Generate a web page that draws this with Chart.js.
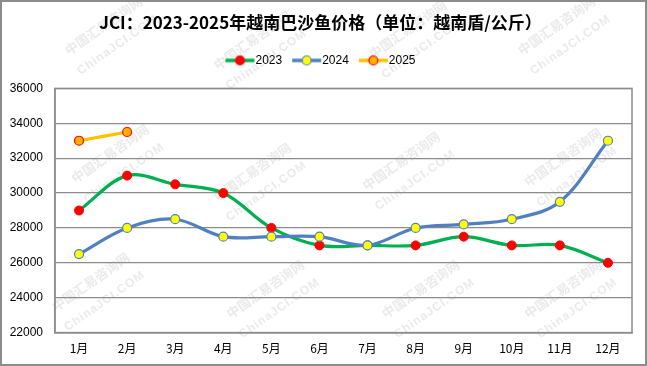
<!DOCTYPE html>
<html>
<head>
<meta charset="utf-8">
<script src="https://cdn.jsdelivr.net/npm/chart.js@4/dist/chart.umd.min.js"></script>
<style>
html,body{margin:0;padding:0;background:#fff;}
#wrap{width:647px;height:366px;position:relative;}
</style>
</head>
<body>
<div id="wrap"><canvas id="c" width="647" height="366"></canvas></div>
<script>
const titleText = 'JCI：2023-2025年越南巴沙鱼价格（单位：越南盾/公斤）';
const categories = ['1月','2月','3月','4月','5月','6月','7月','8月','9月','10月','11月','12月'];
const seriesNames = ['2023','2024','2025'];
const values2023 = [29000,31000,30500,30000,28000,27000,27000,27000,27500,27000,27000,26000];
const values2024 = [26500,28000,28500,27500,27500,27500,27000,28000,28200,28500,29500,33000];
const values2025 = [33000,33500];
const yTicks = [22000,24000,26000,28000,30000,32000,34000,36000];
const watermarkCn = '中国汇易咨询网';
const watermarkEn = 'ChinaJCI.COM';

const FONT = "'Liberation Sans','Noto Sans CJK SC',sans-serif";
const CJK = "'Noto Sans CJK SC','Liberation Sans',sans-serif";

function legendIcon(lineColor, fill, border) {
  const cv = document.createElement('canvas');
  cv.width = 36; cv.height = 12;
  const g = cv.getContext('2d');
  g.strokeStyle = lineColor; g.lineWidth = 3.5;
  g.beginPath(); g.moveTo(6, 6); g.lineTo(35, 6); g.stroke();
  g.beginPath(); g.arc(20.5, 6, 4.5, 0, Math.PI * 2);
  g.fillStyle = fill; g.fill();
  g.lineWidth = 1.2; g.strokeStyle = border; g.stroke();
  return cv;
}

const styles = [
  {line:'#00B050', fill:'#FF0000', border:'#FF0000'},
  {line:'#5080C0', fill:'#FFFF00', border:'#5080C0'},
  {line:'#FFC000', fill:'#FFB000', border:'#FF0000'}
];
const dataSeries = [values2023, values2024, values2025];

const datasets = dataSeries.map((vals, i) => ({
  label: seriesNames[i],
  data: vals,
  borderColor: styles[i].line,
  backgroundColor: styles[i].fill,
  pointBackgroundColor: styles[i].fill,
  pointBorderColor: styles[i].border,
  pointBorderWidth: i === 0 ? 1 : 1.2,
  pointRadius: 4.5,
  pointHoverRadius: 4.5,
  borderWidth: 3.2,
  tension: 0.35,
  order: 3 - i
}));

// watermark anchor spots (decorative), as fractions of canvas size
const wmSpots = [[0.16,0.07],[0.39,0.11],[0.63,0.08],[0.86,0.07],
                 [0.17,0.42],[0.39,0.47],[0.62,0.44],[0.87,0.43],
                 [0.14,0.77],[0.41,0.79],[0.65,0.79],[0.87,0.79]];

const frame = {
  id: 'frame',
  beforeInit(chart) {
    const lg = chart.legend;
    if (lg) {
      const orig = lg.fit;
      lg.fit = function () { orig.call(this); this.height += 12; };
    }
  },
  beforeDraw(chart) {
    const {ctx, width, height} = chart;
    ctx.save();
    ctx.fillStyle = '#fff';
    ctx.fillRect(0, 0, width, height);
    wmSpots.forEach(([fx, fy]) => {
      const x = fx * width, y = fy * height;
      ctx.save();
      ctx.translate(x, y);
      ctx.rotate(-35 * Math.PI / 180);
      ctx.fillStyle = 'rgba(190,190,190,0.32)';
      ctx.textAlign = 'center';
      ctx.textBaseline = 'middle';
      ctx.font = "bold 13px 'Noto Sans CJK SC'";
      ctx.fillText(watermarkCn, 0, 0);
      ctx.font = "bold 12px 'Liberation Sans'";
      ctx.fillText(watermarkEn.split('').join(String.fromCharCode(8202)), 0, 24);
      ctx.restore();
    });
    ctx.restore();
  },
  beforeDatasetsDraw(chart) {
    const {ctx, chartArea: a} = chart;
    ctx.save();
    ctx.strokeStyle = '#8C8C8C';
    ctx.lineWidth = 1.5;
    ctx.strokeRect(a.left, a.top, a.right - a.left, a.bottom - a.top);
    ctx.restore();
  },
  afterDraw(chart) {
    const {ctx, width, height} = chart;
    ctx.save();
    ctx.strokeStyle = '#8C8C8C';
    ctx.lineWidth = 2;
    ctx.strokeRect(1, 1, width - 2, height - 2);
    ctx.restore();
  }
};

new Chart(document.getElementById('c'), {
  type: 'line',
  data: { labels: categories, datasets },
  plugins: [frame],
  options: {
    responsive: false,
    animation: false,
    events: [],
    layout: { padding: { left: 9, right: 15, top: 0, bottom: 1 } },
    plugins: {
      title: {
        display: true,
        text: titleText,
        color: '#000',
        font: { family: CJK, size: 17, weight: 'bold' },
        padding: { top: 12, bottom: 12 }
      },
      legend: {
        display: true,
        labels: {
          color: '#000',
          font: { family: FONT, size: 12 },
          usePointStyle: true,
          pointStyleWidth: 24,
          padding: 10,
          generateLabels(chart) {
            return chart.data.datasets.map((d, i) => ({
              text: d.label,
              fillStyle: styles[i].fill,
              strokeStyle: styles[i].border,
              lineWidth: 0,
              pointStyle: legendIcon(styles[i].line, styles[i].fill, styles[i].border),
              datasetIndex: i,
              hidden: false,
              fontColor: '#000'
            }));
          }
        }
      },
      tooltip: { enabled: false }
    },
    scales: {
      x: {
        offset: true,
        grid: { display: false, drawTicks: false, offset: true },
        border: { display: true, color: '#8C8C8C', width: 1.5 },
        ticks: { color: '#000', font: { family: CJK, size: 12 }, padding: 9, maxRotation: 0, autoSkip: false }
      },
      y: {
        min: yTicks[0],
        max: yTicks[yTicks.length - 1],
        afterBuildTicks(scale) { scale.ticks = yTicks.map(v => ({ value: v })); },
        afterFit(scale) { scale.width = 46; },
        grid: { color: '#8C8C8C', lineWidth: 1.2, drawTicks: false },
        border: { display: true, color: '#8C8C8C', width: 1.5 },
        ticks: { color: '#000', font: { family: FONT, size: 12 }, padding: 12, callback: v => String(v) }
      }
    }
  }
});
</script>
</body>
</html>
